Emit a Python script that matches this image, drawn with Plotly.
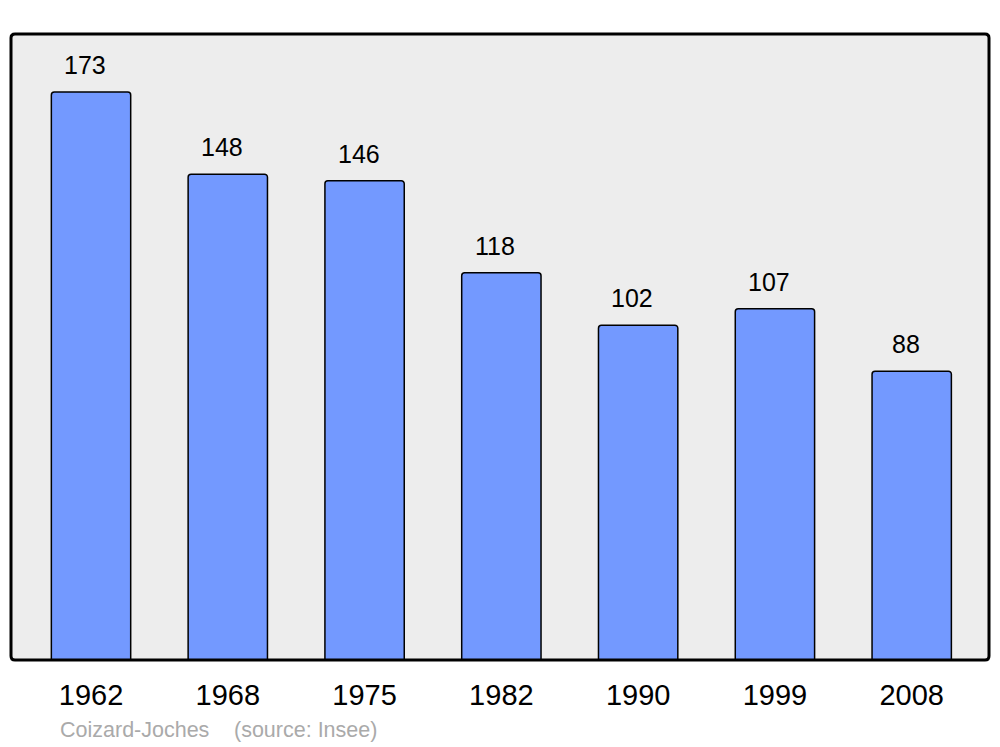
import plotly.graph_objects as go

years = ["1962", "1968", "1975", "1982", "1990", "1999", "2008"]
population = [173, 148, 146, 118, 102, 107, 88]
footer_left = "Coizard-Joches"
footer_right = "(source: Insee)"

W, H = 1000, 747
ml, mt, mr, mb = 11, 34, 11, 87
pw, ph = W - ml - mr, H - mt - mb

fig = go.Figure()
fig.add_trace(go.Bar(
    x=years, y=population,
    marker=dict(color="#7399FF", line=dict(color="#000000", width=1.5), cornerradius=3),
    width=0.58,
    hoverinfo="x+y",
))

for i, v in enumerate(population):
    fig.add_annotation(x=i, y=v, text=str(v), showarrow=False,
                       yanchor="bottom", yshift=11, xshift=-6,
                       font=dict(family="Liberation Sans, Arial", size=25, color="#000000"))

# rounded frame
r = 4
rx, ry = r / pw, r / ph
path = (f"M {rx},0 L {1-rx},0 Q 1,0 1,{ry} L 1,{1-ry} Q 1,1 {1-rx},1 "
        f"L {rx},1 Q 0,1 0,{1-ry} L 0,{ry} Q 0,0 {rx},0 Z")
fig.add_shape(type="path", path=path, xref="paper", yref="paper",
              line=dict(color="#000000", width=3), layer="above")

fy = (660 - 730) / ph
fig.add_annotation(x=(58 - 11) / pw, y=fy, xref="paper", yref="paper",
                   text=footer_left, showarrow=False, xanchor="left", yanchor="middle",
                   font=dict(family="Liberation Sans, Arial", size=21.5, color="#AAAAAA"))
fig.add_annotation(x=(232 - 11) / pw, y=fy, xref="paper", yref="paper",
                   text=footer_right, showarrow=False, xanchor="left", yanchor="middle",
                   font=dict(family="Liberation Sans, Arial", size=21.5, color="#AAAAAA"))

fig.update_layout(
    width=W, height=H,
    margin=dict(l=ml, r=mr, t=mt, b=mb),
    paper_bgcolor="#FFFFFF",
    plot_bgcolor="#EDEDED",
    showlegend=False,
    xaxis=dict(type="category", range=[-0.585, 6.565], showgrid=False, zeroline=False,
               ticks="outside", ticklen=9, tickcolor="rgba(0,0,0,0)",
               tickfont=dict(family="Liberation Sans, Arial", size=29, color="#000000"),
               fixedrange=True),
    yaxis=dict(range=[0, 190.7], showgrid=False, zeroline=False, showticklabels=False,
               fixedrange=True),
)

fig.write_html("out.html", config={"displayModeBar": False},
               post_script="document.body.style.margin='0';")
